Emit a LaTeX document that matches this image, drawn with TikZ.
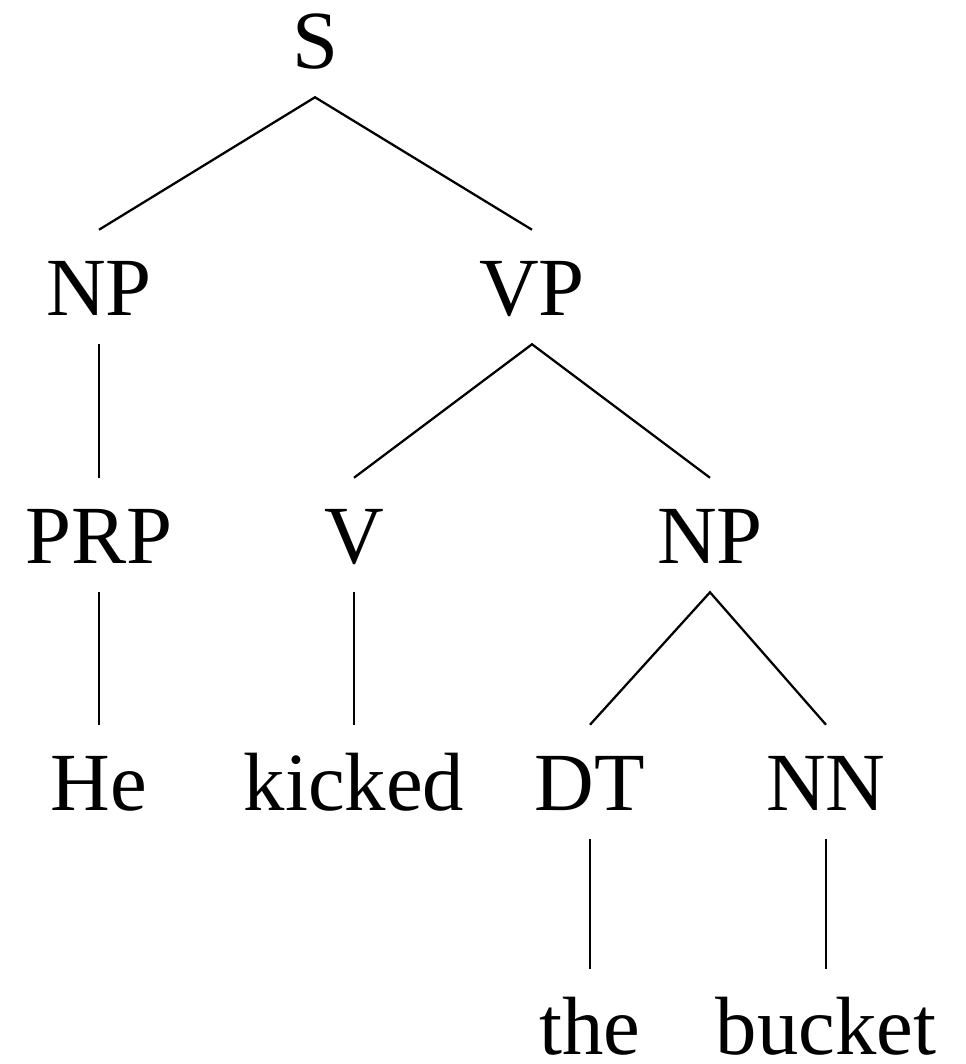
\documentclass[tikz,border=0pt]{standalone}
\usepackage{fontspec}
\setmainfont{Liberation Serif}
\begin{document}
\begin{tikzpicture}[x=0.75pt,y=-0.75pt,
  cat/.style={anchor=base,font=\fontsize{62}{70}\selectfont,
    text height=42pt,text depth=0pt,inner xsep=0pt,inner ysep=21.75pt},
  leaf/.style={cat,inner ysep=0.5pt},
  edge/.style={line width=1.7pt,line cap=butt}]
\useasboundingbox (0,0) rectangle (965,1064);
% level 0
\node[cat] (S) at (315,68) {S};
% level 1
\node[cat] (NP1) at (99,315) {NP};
\node[cat] (VP) at (532,315) {VP};
% level 2
\node[cat] (PRP) at (99,563) {PRP};
\node[cat] (V) at (354,563) {V};
\node[cat] (NP2) at (710,563) {NP};
% level 3
\node[cat] (He) at (99,810) {He};
\node[cat] (kicked) at (354,810) {kicked};
\node[cat] (DT) at (590,810) {DT};
\node[cat] (NN) at (826,810) {NN};
% level 4 (leaves on the last line)
\node[leaf] (the) at (590,1054) {the};
\node[leaf] (bucket) at (826,1054) {bucket};
% branches
\draw[edge] (NP1.north) -- (S.south) -- (VP.north);
\draw[edge] (NP1.south) -- (PRP.north);
\draw[edge] (V.north) -- (VP.south) -- (NP2.north);
\draw[edge] (PRP.south) -- (He.north);
\draw[edge] (V.south) -- (kicked.north);
\draw[edge] (DT.north) -- (NP2.south) -- (NN.north);
\draw[edge] (DT.south) -- ([yshift=21.25pt]the.north);
\draw[edge] (NN.south) -- ([yshift=21.25pt]bucket.north);
\end{tikzpicture}
\end{document}
